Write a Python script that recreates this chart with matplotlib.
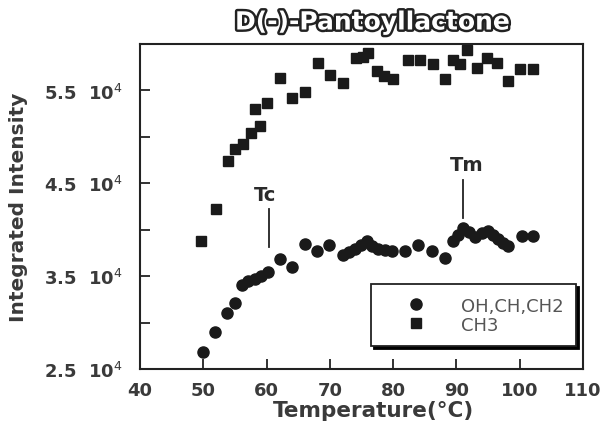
import matplotlib
matplotlib.use("Agg")
import matplotlib.pyplot as plt
import matplotlib.patheffects as pe
from matplotlib.ticker import FixedLocator

plt.rcParams['font.family'] = ['DejaVu Sans']

# OH,CH,CH2 (circles)
t_oh = [50.0, 51.8, 53.7, 55.0, 56.1, 57.1, 58.2, 59.2, 60.3, 62.1, 64.1, 66.1, 67.9,
        69.9, 72.1, 73.0, 74.0, 75.0, 75.8, 76.7, 77.6, 78.7, 79.8, 81.9, 84.0, 86.1,
        88.2, 89.5, 90.2, 91.1, 92.0, 92.9, 94.0, 95.0, 95.8, 96.6, 97.4, 98.2,
        100.3, 102.1]
i_oh = [2.68, 2.90, 3.10, 3.21, 3.40, 3.45, 3.47, 3.50, 3.55, 3.68, 3.60, 3.85, 3.77,
        3.84, 3.73, 3.76, 3.79, 3.84, 3.88, 3.83, 3.79, 3.78, 3.77, 3.77, 3.84, 3.77,
        3.70, 3.88, 3.94, 4.02, 3.98, 3.92, 3.96, 3.99, 3.94, 3.90, 3.86, 3.83,
        3.93, 3.93]

# CH3 (squares)
t_ch3 = [49.7, 52.0, 53.9, 55.0, 56.3, 57.6, 58.9, 58.2, 60.0, 62.1, 64.0, 66.1, 68.2,
         70.0, 72.1, 74.2, 75.2, 76.1, 77.4, 78.5, 80.0, 82.4, 84.2, 86.3, 88.2, 89.5,
         90.5, 91.6, 93.2, 94.8, 96.4, 98.2, 100.0, 102.1]
i_ch3 = [3.88, 4.22, 4.74, 4.87, 4.92, 5.04, 5.12, 5.30, 5.36, 5.63, 5.42, 5.48, 5.80,
         5.67, 5.58, 5.85, 5.86, 5.90, 5.71, 5.66, 5.62, 5.83, 5.83, 5.78, 5.62, 5.83,
         5.78, 5.94, 5.74, 5.85, 5.80, 5.60, 5.73, 5.73]

x_ticks = [40, 50, 60, 70, 80, 90, 100, 110]
y_major = [2.5e4, 3.5e4, 4.5e4, 5.5e4]
y_minor = [3.0e4, 4.0e4, 5.0e4]
y_labels = ['2.5  10$^{4}$', '3.5  10$^{4}$', '4.5  10$^{4}$', '5.5  10$^{4}$']

fig = plt.figure(figsize=(6.06, 4.27), dpi=100)
ax = fig.add_axes([0.231, 0.1335, 0.731, 0.761])

ax.plot(t_oh, [v * 1e4 for v in i_oh], 'o', color='#1a1a1a', ms=8, label='OH,CH,CH2')
ax.plot(t_ch3, [v * 1e4 for v in i_ch3], 's', color='#1a1a1a', ms=7.5, label='CH3')

ax.set_xlim(40, 110)
ax.set_ylim(2.5e4, 6.0e4)
ax.set_xticks(x_ticks)
ax.set_xticklabels([str(v) for v in x_ticks])
ax.yaxis.set_major_locator(FixedLocator(y_major))
ax.set_yticklabels(y_labels)
ax.yaxis.set_minor_locator(FixedLocator(y_minor))
ax.tick_params(which='both', direction='in', width=1.3, colors='#222222')
ax.tick_params(which='major', length=7, labelsize=13)
ax.tick_params(axis='x', which='major', pad=9)
ax.tick_params(axis='y', which='major', pad=12)
ax.tick_params(which='minor', length=7)
for lbl in ax.get_xticklabels() + ax.get_yticklabels():
    lbl.set_fontweight('bold')
    lbl.set_color('#3a3a3a')
for s in ax.spines.values():
    s.set_linewidth(1.5)
    s.set_color('#222222')

ax.set_xlabel('Temperature(°C)', fontsize=15.5, fontweight='bold', color='#3a3a3a')
ax.xaxis.set_label_coords(0.528, -0.095)
ax.set_ylabel('Integrated Intensity', fontsize=14.5, fontweight='bold', color='#3a3a3a')
ax.yaxis.set_label_coords(-0.252, 0.5)

# transition markers
ax.plot([60.4, 60.4], [4.22e4, 3.81e4], color='#222222', lw=1.3)
ax.text(59.8, 4.38e4, 'Tc', fontsize=14, fontweight='bold', color='#2a2a2a', ha='center', va='center')
ax.plot([91.0, 91.0], [4.54e4, 4.13e4], color='#222222', lw=1.3)
ax.text(91.6, 4.70e4, 'Tm', fontsize=14, fontweight='bold', color='#2a2a2a', ha='center', va='center')

leg = ax.legend(loc='lower right', bbox_to_anchor=(0.985, 0.07), frameon=True, fancybox=False,
                shadow={'color': 'black', 'alpha': 1.0}, edgecolor='#222222', fontsize=13,
                handletextpad=0.7, borderpad=0.7, borderaxespad=0, labelspacing=0.05,
                handlelength=3.6)
leg.get_frame().set_linewidth(1.3)
for t in leg.get_texts():
    t.set_color('#555555')

fig.text(0.615, 0.945, 'D(-)-Pantoyllactone', fontsize=18, fontweight='bold', color='white',
         ha='center', va='center',
         path_effects=[pe.withStroke(linewidth=3.5, foreground='#222222')])

fig.savefig('out.png', dpi=100)
